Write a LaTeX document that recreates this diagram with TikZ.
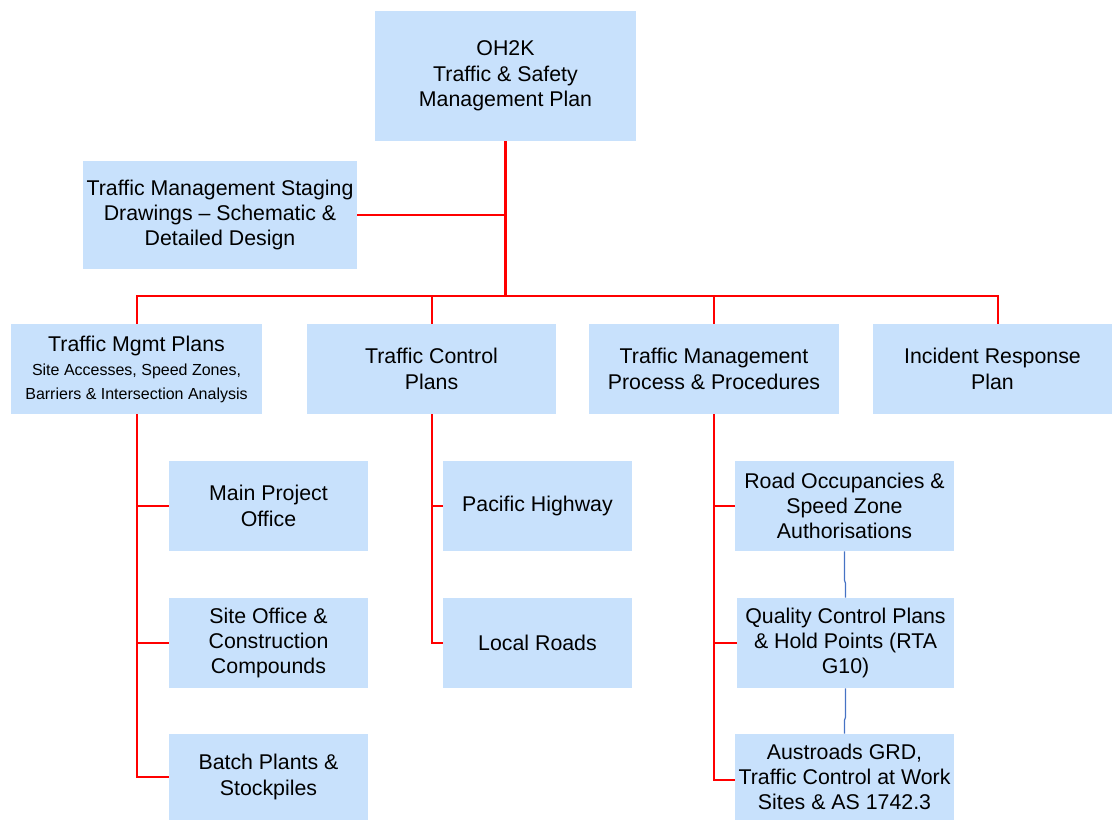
\documentclass[tikz,border=0pt]{standalone}
\usepackage{fontspec}
\setmainfont{Liberation Sans}
\usepackage{xcolor}
\usetikzlibrary{calc}
\definecolor{boxblue}{RGB}{200,225,252}
\definecolor{linkblue}{RGB}{70,115,196}

\begin{document}
\begin{tikzpicture}[x=0.75pt,y=-0.75pt,
        box/.style={fill=boxblue,align=center,inner sep=0pt,font=\fontsize{16}{19}\selectfont},
        redline/.style={draw=red,line width=1.5pt},
        trunk/.style={draw=red,line width=2.2pt},
        blueline/.style={draw=linkblue,line width=0.9pt}]
            \useasboundingbox (0,0) rectangle (1112,820);

            % top and staging
            \node[box,minimum width=195.75pt,minimum height=97.5pt] (plan) at (505.5,76) {OH2K\\Traffic \& Safety\\Management Plan};
            \node[box,minimum width=205.5pt,minimum height=81pt] (staging) at (220,215) {Traffic Management Staging\\Drawings -- Schematic \&\\Detailed Design};

            % second row
            \node[box,minimum width=188.25pt,minimum height=67.5pt] (mgmt) at (136.5,369) {Traffic Mgmt Plans\\[-0.5pt]{\fontsize{12}{17}\selectfont Site Accesses, Speed Zones,}\\[-1.5pt]{\fontsize{12}{17}\selectfont Barriers \& Intersection Analysis}};
            \node[box,minimum width=186.75pt,minimum height=67.5pt] (control) at (431.5,369) {Traffic Control\\Plans};
            \node[box,minimum width=187.5pt,minimum height=67.5pt] (process) at (714,369) {Traffic Management\\Process \& Procedures};
            \node[box,minimum width=179.25pt,minimum height=67.5pt] (incident) at (992.5,369) {Incident Response\\Plan};

            % left column
            \node[box,minimum width=149.25pt,minimum height=67.5pt] (office) at (268.5,506) {Main Project\\Office};
            \node[box,minimum width=149.25pt,minimum height=67.5pt] (compound) at (268.5,643) {Site Office \&\\Construction\\Compounds};
            \node[box,minimum width=149.25pt,minimum height=64.5pt] (batch) at (268.5,777) {Batch Plants \&\\Stockpiles};

            % middle column
            \node[box,minimum width=141.75pt,minimum height=67.5pt] (pacific) at (537.5,506) {Pacific Highway};
            \node[box,minimum width=141.75pt,minimum height=67.5pt] (local) at (537.5,643) {Local Roads};

            % right column
            \node[box,minimum width=164.25pt,minimum height=67.5pt] (occupancy) at (844.5,506) {Road Occupancies \&\\Speed Zone\\Authorisations};
            \node[box,minimum width=162.75pt,minimum height=67.5pt] (quality) at (845.5,643) {Quality Control Plans\\\& Hold Points (RTA\\G10)};
            \node[box,minimum width=164.25pt,minimum height=64.5pt] (austroads) at (844.5,777) {Austroads GRD,\\Traffic Control at Work\\Sites \& AS 1742.3};

            \coordinate (bus) at (505.5,296);

            % red tree
            \draw[trunk] (plan.south) -- (bus);
            \draw[redline] (staging.east) -- (staging.east -| plan.south);
            \draw[redline] (mgmt.north) |- (bus);
            \draw[redline] ($(incident.north)+(5.5,0)$) |- (bus);
            \draw[redline] (control.north) -- (control.north |- bus);
            \draw[redline] (process.north) -- (process.north |- bus);

            \draw[redline] (mgmt.south) |- (batch.west);
            \draw[redline] (office.west) -- (office.west -| mgmt.south);
            \draw[redline] (compound.west) -- (compound.west -| mgmt.south);

            \draw[redline] (control.south) |- (local.west);
            \draw[redline] (pacific.west) -- (pacific.west -| control.south);

            \draw[redline] (process.south) |- ($(austroads.west)+(0,3)$);
            \draw[redline] (occupancy.west) -- (occupancy.west -| process.south);
            \draw[redline] (quality.west) -- (quality.west -| process.south);

            % blue links
            \draw[blueline] (occupancy.south) -- ++(0,29) -- ++(1,3) -- (quality.north);
            \draw[blueline] (quality.south) -- ++(0,29) -- ++(-1,3) -- (austroads.north);
        \end{tikzpicture}
\end{document}
